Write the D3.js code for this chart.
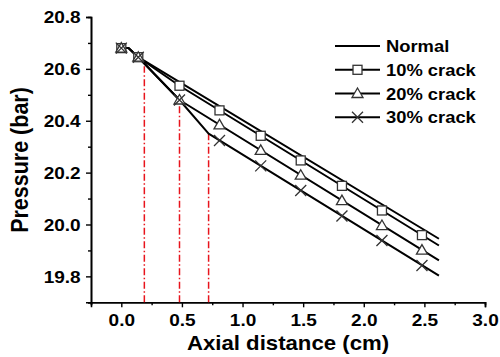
<!DOCTYPE html>
<html><head><meta charset="utf-8">
<script src="https://cdn.jsdelivr.net/npm/d3@7"></script>
<style>html,body{margin:0;padding:0;background:#fff;} svg{display:block;}</style>
</head><body>
<svg id="c" width="500" height="357"></svg>
<script>
// ---- data ----
const xNormal = [0, 0.06, 0.14, 2.62];
const yNormal = [20.68, 20.68, 20.645, 19.945];
const x10 = [0, 0.06, 0.14, 0.48, 2.62];
const y10 = [20.68, 20.68, 20.645, 20.535, 19.919];
const x20 = [0, 0.06, 0.14, 0.48, 2.62];
const y20 = [20.68, 20.68, 20.645, 20.48, 19.862];
const x30 = [0, 0.06, 0.14, 0.48, 0.72, 2.62];
const y30 = [20.68, 20.68, 20.645, 20.48, 20.35, 19.803];
const markerX = [0, 0.14, 0.48, 0.81, 1.15, 1.48, 1.82, 2.15, 2.48];
const m10 = [20.68, 20.645, 20.535, 20.44, 20.342, 20.247, 20.149, 20.054, 19.959];
const m20 = [20.68, 20.645, 20.48, 20.384, 20.286, 20.19, 20.092, 19.996, 19.901];
const m30 = [20.68, 20.645, 20.48, 20.324, 20.226, 20.131, 20.033, 19.938, 19.842];
const crackX = [0.19, 0.48, 0.72];
const crackTop = [20.61, 20.48, 20.35];
const seriesNames = ["Normal", "10% crack", "20% crack", "30% crack"];
const xTicks = [0.0, 0.5, 1.0, 1.5, 2.0, 2.5, 3.0];
const yTicks = [19.8, 20.0, 20.2, 20.4, 20.6, 20.8];
const xTitle = "Axial distance (cm)";
const yTitle = "Pressure (bar)";

// ---- layout ----
const svg = d3.select("#c");
const L = 91, R = 485, T = 17, B = 302.3;
const x = d3.scaleLinear().domain([-0.25, 3.0]).range([L, R]);
const y = d3.scaleLinear().domain([19.7, 20.8]).range([B, T]);
const FONT = "'Liberation Sans', Arial, sans-serif";
const SX = 1.12;

// axes
const minorX = d3.range(-0.25, 3.01, 0.25).filter(v => !xTicks.some(t => Math.abs(t - v) < 1e-6));
const minorY = d3.range(19.7, 20.81, 0.1).filter(v => !yTicks.some(t => Math.abs(t - v) < 1e-6));

const gx = svg.append("g").attr("transform", `translate(0,${B})`);
gx.call(d3.axisBottom(x).tickValues(minorX).tickSize(3).tickFormat(""));
gx.call(g => g.selectAll(".tick").attr("class", "minor"));
const gx2 = svg.append("g").attr("transform", `translate(0,${B})`)
  .call(d3.axisBottom(x).tickValues(xTicks).tickSize(5).tickPadding(8).tickFormat(d3.format(".1f")));
const gy = svg.append("g").attr("transform", `translate(${L},0)`);
gy.call(d3.axisLeft(y).tickValues(minorY).tickSize(3).tickFormat(""));
const gy2 = svg.append("g").attr("transform", `translate(${L},0)`)
  .call(d3.axisLeft(y).tickValues(yTicks).tickSize(5).tickPadding(5).tickFormat(d3.format(".1f")));
[gx, gx2, gy, gy2].forEach(g => {
  g.selectAll("path.domain").attr("stroke", "#000").attr("stroke-width", 1.6);
  g.selectAll("line").attr("stroke", "#000").attr("stroke-width", 1.4);
});
gx2.selectAll("text").attr("font-family", FONT).attr("font-weight", "bold").attr("font-size", 17)
  .attr("fill", "#000").attr("y", 12).attr("dy", "0.71em").attr("transform", `scale(${SX},1)`);
gy2.selectAll("text").attr("font-family", FONT).attr("font-weight", "bold").attr("font-size", 17)
  .attr("fill", "#000").attr("x", -10.3 / SX).attr("dy", "0.35em").attr("transform", `scale(${SX},1)`);

// red dash-dot lines
svg.append("g").selectAll("line").data(crackX).join("line")
  .attr("x1", d => x(d)).attr("x2", d => x(d))
  .attr("y1", y(19.7)).attr("y2", (d, i) => y(crackTop[i]))
  .attr("stroke", "#e8141c").attr("stroke-width", 1.5)
  .attr("stroke-dasharray", "7,2.5,1.5,2.5");

// lines
const line = d3.line().x(d => x(d[0])).y(d => y(d[1]));
const lineData = [
  d3.zip(xNormal, yNormal), d3.zip(x10, y10), d3.zip(x20, y20), d3.zip(x30, y30)
];
svg.append("g").selectAll("path").data(lineData).join("path")
  .attr("d", line).attr("fill", "none").attr("stroke", "#000").attr("stroke-width", 2)
  .attr("stroke-linejoin", "round");

// markers
const MS = "#333";
function square(g, cx, cy) {
  g.append("rect").attr("x", cx - 4.5).attr("y", cy - 4.5).attr("width", 9).attr("height", 9)
    .attr("fill", "#fff").attr("stroke", MS).attr("stroke-width", 1.3);
}
function tri(g, cx, cy) {
  g.append("path").attr("d", `M${cx},${cy - 5.5}L${cx + 5.5},${cy + 4}L${cx - 5.5},${cy + 4}Z`)
    .attr("fill", "#fff").attr("stroke", MS).attr("stroke-width", 1.3);
}
function cross(g, cx, cy) {
  g.append("path").attr("d", `M${cx - 5.5},${cy - 5.5}L${cx + 5.5},${cy + 5.5}M${cx - 5.5},${cy + 5.5}L${cx + 5.5},${cy - 5.5}`)
    .attr("fill", "none").attr("stroke", MS).attr("stroke-width", 1.3);
}
const gm = svg.append("g");
markerX.forEach((mx, i) => square(gm, x(mx), y(m10[i])));
markerX.forEach((mx, i) => tri(gm, x(mx), y(m20[i])));
markerX.forEach((mx, i) => cross(gm, x(mx), y(m30[i])));

// legend
const lg = svg.append("g");
const legY = [46, 69.8, 93.5, 117.3];
const markFns = [null, square, tri, cross];
seriesNames.forEach((name, i) => {
  lg.append("line").attr("x1", 335).attr("x2", 380).attr("y1", legY[i]).attr("y2", legY[i])
    .attr("stroke", "#000").attr("stroke-width", 2);
  if (markFns[i]) markFns[i](lg, 357.5, legY[i]);
  lg.append("text").attr("transform", `translate(386,${legY[i]}) scale(1.08,1)`)
    .attr("dy", "0.36em").attr("font-family", FONT).attr("font-weight", "bold")
    .attr("font-size", 17).text(name);
});

// titles
svg.append("text").attr("transform", `translate(288,349.5) scale(1.11,1)`)
  .attr("text-anchor", "middle").attr("font-family", FONT).attr("font-weight", "bold")
  .attr("font-size", 20).text(xTitle);
svg.append("text").attr("transform", `translate(27.5,160) rotate(-90) scale(1,1.1)`)
  .attr("text-anchor", "middle").attr("font-family", FONT).attr("font-weight", "bold")
  .attr("font-size", 21.5).text(yTitle);
</script>
</body></html>
